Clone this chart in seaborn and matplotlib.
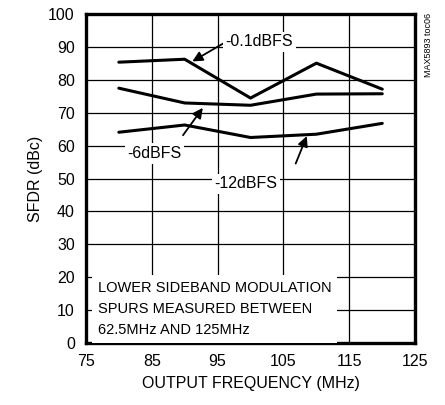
import numpy as np
import pandas as pd
import matplotlib
matplotlib.use('Agg')
import matplotlib.pyplot as plt
import seaborn as sns

# data
freq = [80, 90, 100, 110, 120]
sfdr_01 = [85.4, 86.3, 74.5, 85.1, 77.2]
sfdr_6 = [77.5, 73.0, 72.3, 75.7, 75.8]
sfdr_12 = [64.1, 66.3, 62.5, 63.5, 66.8]
series_names = ['-0.1dBFS', '-6dBFS', '-12dBFS']
x_ticks = [75, 85, 95, 105, 115, 125]
y_ticks = [0, 10, 20, 30, 40, 50, 60, 70, 80, 90, 100]

df = pd.DataFrame({
    'freq': freq * 3,
    'sfdr': sfdr_01 + sfdr_6 + sfdr_12,
    'level': [n for n in series_names for _ in freq],
})

sns.set_style('white')
plt.rcParams['font.family'] = ['Liberation Sans', 'DejaVu Sans']
plt.rcParams['text.color'] = 'black'
plt.rcParams['axes.labelcolor'] = 'black'

fs = 11.5

fig = plt.figure(figsize=(4.45, 4.05), dpi=100)
ax = fig.add_axes([0.193, 0.153, 0.740, 0.812])

sns.lineplot(data=df, x='freq', y='sfdr', hue='level', palette=['black'] * 3,
             linewidth=2.2, legend=False, ax=ax, zorder=3)

ax.set_xlim(75, 125)
ax.set_ylim(0, 100)
ax.set_xticks(x_ticks)
ax.set_yticks(y_ticks)
ax.tick_params(length=0, labelsize=fs, colors='black', pad=8)
ax.grid(True, color='black', linewidth=0.9)
ax.set_axisbelow(True)
for s in ax.spines.values():
    s.set_linewidth(2.4)
    s.set_color('black')
ax.set_xlabel('OUTPUT FREQUENCY (MHz)', fontsize=fs, labelpad=5)
ax.set_ylabel('SFDR (dBc)', fontsize=fs, labelpad=4)

box = dict(facecolor='white', edgecolor='none', pad=2)
arrow = dict(arrowstyle='-|>', color='black', lw=1.3, mutation_scale=15)
ax.annotate('', xy=(90.8, 85.2), xytext=(96.2, 91.5), arrowprops=arrow, zorder=4)
ax.text(101.3, 91.6, '-0.1dBFS', fontsize=fs, ha='center', va='center', bbox=box, zorder=5)
ax.annotate('', xy=(93.0, 72.2), xytext=(89.5, 62.5), arrowprops=arrow, zorder=4)
ax.text(85.4, 57.6, '-6dBFS', fontsize=fs, ha='center', va='center', bbox=box, zorder=5)
ax.annotate('', xy=(108.7, 63.7), xytext=(106.7, 53.8), arrowprops=arrow, zorder=4)
ax.text(99.3, 48.4, '-12dBFS', fontsize=fs, ha='center', va='center', bbox=box, zorder=5)

ax.text(76.8, 1.8, 'LOWER SIDEBAND MODULATION\nSPURS MEASURED BETWEEN\n62.5MHz AND 125MHz',
        fontsize=10.5, ha='left', va='bottom', linespacing=1.65,
        bbox=dict(facecolor='white', edgecolor='none', pad=4), zorder=5)

fig.text(0.962, 0.968, 'MAX5893 toc06', rotation=90, fontsize=6.5, ha='center', va='top')

fig.savefig('out.png', dpi=100)
